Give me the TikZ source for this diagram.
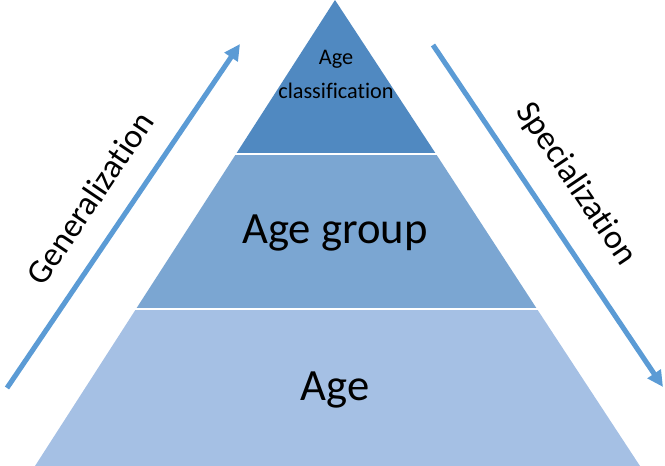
\documentclass[tikz,border=0pt]{standalone}
\usepackage{fontspec}
\setmainfont{Carlito}[Ligatures=NoCommon]
\usetikzlibrary{arrows.meta}
\definecolor{tierTop}{RGB}{80,137,193}
\definecolor{tierMid}{RGB}{123,166,210}
\definecolor{tierLow}{RGB}{165,192,228}
\definecolor{flowBlue}{RGB}{91,155,213}
\tikzset{
  flow/.style={draw=flowBlue, line width=3.8pt,
    -{Triangle[length=12pt,width=11.5pt]}},
  sidelabel/.style={font=\fontsize{25.5pt}{30pt}\selectfont, text=black, inner sep=0pt},
  tierlabel/.style={font=\fontsize{33.5pt}{40pt}\selectfont, text=black, inner sep=0pt, anchor=base},
  toplabel/.style={font=\fontsize{16.7pt}{25.5pt}\selectfont, text=black, inner sep=0pt,
    align=center, anchor=base},
  divider/.style={draw=white, line width=1.3pt}
}
\begin{document}
\begin{tikzpicture}[x=0.75pt, y=-0.75pt]
  \useasboundingbox (0,0) rectangle (665,466);
  % pyramid tiers
  \fill[tierLow] (136,309) -- (537,309) -- (640,466) -- (35,466) -- cycle;
  \fill[tierMid] (236,154) -- (436,154) -- (537,309) -- (136,309) -- cycle;
  \fill[tierTop] (335,0) -- (436,154) -- (236,154) -- cycle;
  \draw[divider] (230,154) -- (442,154);
  \draw[divider] (130,309) -- (543,309);
  % tier labels (the base anchor of the two-line label sits on its last line)
  \node[toplabel] (cls) at (336,99) {Age\\classification};
  \node[tierlabel] (grp) at (335,244) {Age group};
  \node[tierlabel] (age) at (335,401) {Age};
  % direction arrows
  \coordinate (genA) at (7,388);
  \coordinate (genB) at (240,44);
  \coordinate (speA) at (433,45);
  \coordinate (speB) at (663,387);
  \draw[flow] (genA) -- (genB);
  \draw[flow] (speA) -- (speB);
  \node[sidelabel, rotate=56] (gen) at (90,198) {Generalization};
  \node[sidelabel, rotate=-56] (spe) at (576,184) {Specialization};
\end{tikzpicture}
\end{document}
